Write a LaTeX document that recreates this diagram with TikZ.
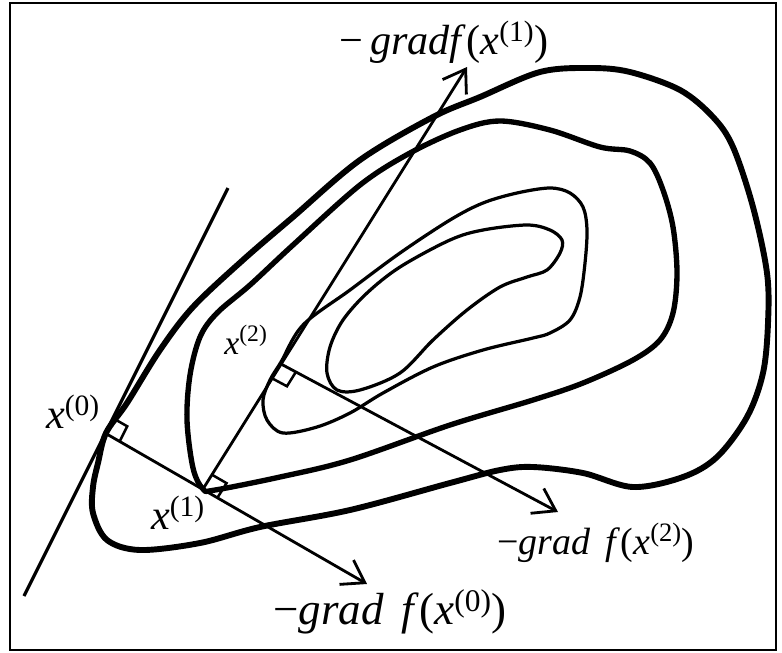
\documentclass[tikz,border=0pt]{standalone}
\usepackage{fontspec}
\setmainfont{Liberation Serif}
\usetikzlibrary{arrows.meta, calc}

\begin{document}
\begin{tikzpicture}[
x=0.025cm, y=-0.025cm,
every node/.style={inner sep=0pt, font=\fontsize{30}{36}\selectfont},
frame/.style={draw, line width=0.9pt},
outerlevel/.style={line width=4.2pt, line join=round},
midlevel/.style={line width=3.8pt, line join=round},
innerlevel/.style={line width=2.3pt, line join=round},
arrow/.style={-{Straight Barb[length=15pt,width=20pt]}, line width=2pt},
tangent/.style={line width=2.3pt},
ortho/.style={line width=1.8pt}
]
\useasboundingbox (0,0) rectangle (782,652);
\draw[frame] (10,3) rectangle (776,650);

\coordinate (t1) at (24,596);
\coordinate (t2) at (228,188);
\coordinate (x0) at (105,433);
\coordinate (x1) at (203,489);
\coordinate (x2) at (281,364);
\coordinate (g0) at (367,584);
\coordinate (g1) at (467,67);
\coordinate (g2) at (558,512);

\draw[outerlevel] plot[smooth cycle, tension=0.55] coordinates {
(106,433) (127,403) (160,350) (193,307) (243,260) (293,217) (360,160)
(433,117) (480,97) (540,72) (590,68) (630,72) (680,90) (713,117)
(733,147) (753,207) (767,273) (768,323) (763,373) (747,417) (717,457)
(683,477) (633,487) (583,473) (533,467) (500,470) (450,483) (350,510)
(260,527) (200,543) (140,550) (107,540) (93,513) (93,487) (98,463)};

\draw[midlevel] plot[smooth cycle, tension=0.55] coordinates {
(203,489) (193,468) (187,420) (190,375) (200,337) (217,313) (250,285)
(293,245) (360,185) (410,153) (460,130) (500,121) (550,130) (600,147)
(630,151) (650,163) (663,190) (673,227) (677,273) (673,313) (660,340)
(633,360) (583,383) (533,400) (450,425) (350,460) (280,477) (215,490)};

\draw[innerlevel] plot[smooth cycle, tension=0.55] coordinates {
(270,380) (281,362) (303,325) (350,290) (400,253) (450,220) (483,203)
(517,193) (550,188) (570,193) (583,207) (587,230) (585,263) (580,297)
(570,320) (550,333) (533,338) (483,350) (433,367) (383,393) (350,413)
(317,427) (283,433) (267,420) (263,400)};

\draw[innerlevel] plot[smooth cycle, tension=0.55] coordinates {
(327,373) (337,390) (360,390) (400,373) (433,340) (467,310) (500,287)
(527,277) (547,270) (560,253) (562,240) (550,230) (527,225) (483,230)
(450,240) (400,267) (367,293) (343,320) (330,347)};

\draw[tangent] (t1) -- (t2);

\draw[arrow] (x0) -- (g0);
\draw[arrow] (x1) -- (g1);
\draw[arrow] (x2) -- (g2);

\coordinate (a0) at ($(x0)!12pt!(t2)$);
\coordinate (b0) at ($(x0)!12pt!(x1)$);
\coordinate (a1) at ($(x1)!12pt!(g1)$);
\coordinate (b1) at ($(x1)!12pt!(g0)$);
\coordinate (a2) at ($(x2)!12pt!(x1)$);
\coordinate (b2) at ($(x2)!12pt!(g2)$);
\draw[ortho] (a0) -- ($(a0)+(b0)-(x0)$) -- (b0);
\draw[ortho] (a1) -- ($(a1)+(b1)-(x1)$) -- (b1);
\draw[ortho] (a2) -- ($(a2)+(b2)-(x2)$) -- (b2);

\node (lx0) at (73,412) {\textit{x}\textsuperscript{(0)}};
\node (lx1) at (178,513) {\textit{x}\textsuperscript{(1)}};
\node[font=\fontsize{24}{28}\selectfont] (lx2) at (246,340) {\textit{x}\textsuperscript{(2)}};
\node (lg1) at (444,42) {−\,\textit{gradf}(\textit{x}\textsuperscript{(1)})};
\node[font=\fontsize{27}{32}\selectfont] (lg2) at (596,543) {−\textit{grad}\hspace{0.4em}\textit{f}(\textit{x}\textsuperscript{(2)})};
\node[font=\fontsize{32}{38}\selectfont] (lg0) at (390,612) {−\textit{grad}\hspace{0.4em}\textit{f}(\textit{x}\textsuperscript{(0)})};
\end{tikzpicture}
\end{document}
